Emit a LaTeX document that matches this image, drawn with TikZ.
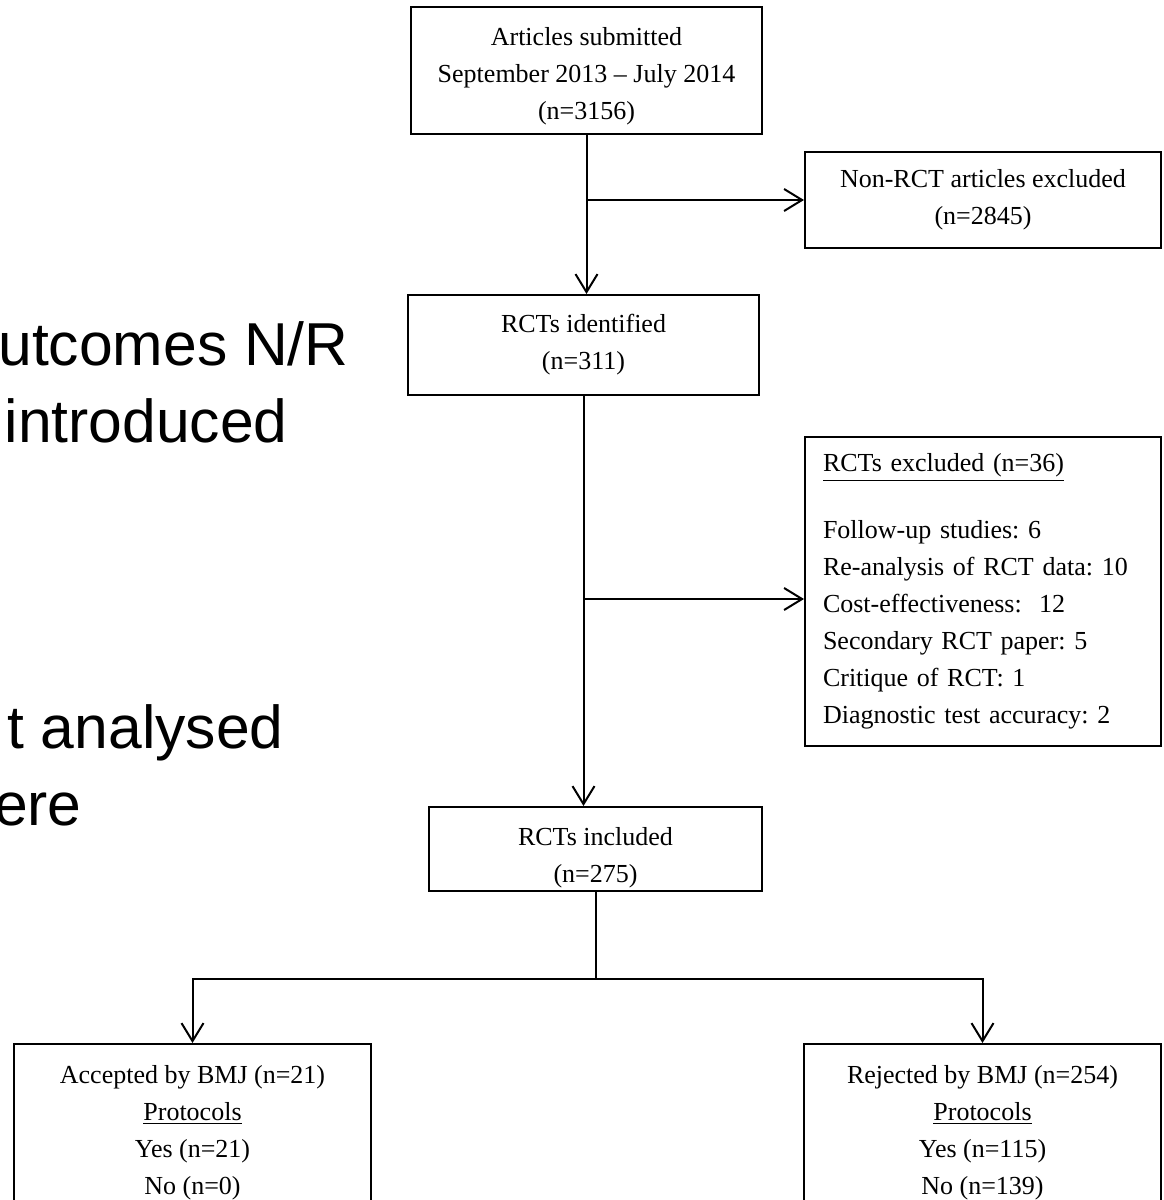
\documentclass[tikz,border=0pt]{standalone}
\usepackage{fontspec}
\setmainfont{Liberation Serif}
\newfontfamily\slidefont{Liberation Sans}
\frenchspacing
\usetikzlibrary{arrows.meta, positioning, calc}

\newcommand{\sinkby}[1]{\rule{0pt}{#1}}

\begin{document}
\begin{tikzpicture}[
    x=0.5pt, y=-0.5pt,
    font=\fontsize{13}{18.5}\selectfont,
    box/.style={draw, line width=1pt, align=center, inner sep=0pt},
    list/.style={draw, line width=1pt, align=left, text width=160pt, inner xsep=9pt, minimum height=154.5pt},
    result/.style={draw, line width=1pt, align=center, minimum width=178.5pt, inner xsep=0pt, inner ysep=10.5pt, anchor=north},
    arrow/.style={-{Straight Barb[length=9pt, width=11pt]}, line width=1pt},
    line/.style={line width=1pt},
    slide/.style={font=\slidefont\fontsize{30.3}{38.5}\selectfont, inner sep=0pt, anchor=base east}
]
  \useasboundingbox (0,0) rectangle (1163,1200);
  \clip (0,0) rectangle (1163,1200);

  % slide text showing on the left
  \node[slide] (out) at (349,365) {utcomes N/R};
  \node[slide] (intro) at (288,442) {introduced};
  \node[slide] (anal) at (284,748) {t analysed};
  \node[slide] (were) at (82,825) {ere};

  \node[box, minimum width=175.5pt, minimum height=63.5pt] (sub) at (586.5,70.5) {\sinkby{15pt}Articles submitted\\September 2013 – July 2014\\(n=3156)};
  \node[box, minimum width=178pt, minimum height=48pt] (nonrct) at (983,200) {Non-RCT articles excluded\\(n=2845)};
  \node[box, minimum width=175.5pt, minimum height=50pt] (ident) at (583.5,345) {RCTs identified\\(n=311)};
  \node[list] (excl) at (983,591.5) {\underline{RCTs excluded (n=36)}\\[15pt]
    Follow-up studies: 6\\
    Re-analysis of RCT data: 10\\
    Cost-effectiveness:\ \ 12\\
    Secondary RCT paper: 5\\
    Critique of RCT: 1\\
    Diagnostic test accuracy: 2};
  \node[box, minimum width=166.5pt, minimum height=42pt] (incl) at (595.5,849) {\sinkby{18pt}RCTs included\\(n=275)};
  \node[result] (acc) at (192.5,1043) {Accepted by BMJ (n=21)\\\underline{Protocols}\\Yes (n=21)\\No (n=0)};
  \node[result] (rej) at (982.5,1043) {Rejected by BMJ (n=254)\\\underline{Protocols}\\Yes (n=115)\\No (n=139)};

  \draw[arrow] (sub) -- (sub |- ident.north);
  \draw[arrow] (sub.south |- nonrct.west) -- (nonrct.west);
  \draw[arrow] (ident) -- (ident |- incl.north);
  \path (ident.south) ++(0,203) coordinate (skip);
  \draw[arrow] (skip) -- (skip -| excl.west);
  \path (incl.south) ++(0,87) coordinate (split);
  \draw[line] (incl.south) -- (split);
  \draw[arrow] (split) -| (acc.north);
  \draw[arrow] (split) -| (rej.north);
\end{tikzpicture}
\end{document}
